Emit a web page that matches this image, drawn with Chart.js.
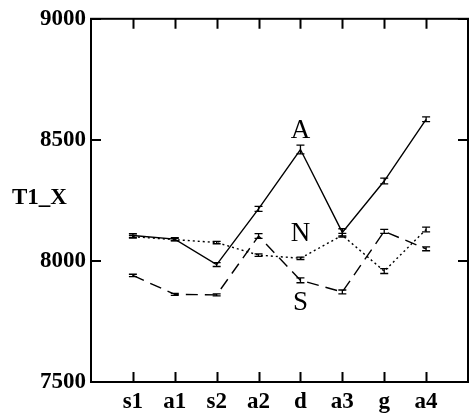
<!DOCTYPE html>
<html>
<head>
<meta charset="UTF-8">
<script src="https://cdn.jsdelivr.net/npm/chart.js"></script>
<style>
  html, body { margin: 0; padding: 0; background: #fff; }
  #wrap { width: 474px; height: 417px; }
</style>
</head>
<body>
<div id="wrap"><canvas id="c" width="474" height="417"></canvas></div>
<script>
const categories = ['s1', 'a1', 's2', 'a2', 'd', 'a3', 'g', 'a4'];
const seriesA = [8105, 8090, 7985, 8215, 8460, 8118, 8330, 8585];
const seriesN = [8100, 8088, 8076, 8024, 8011, 8106, 7958, 8130];
const seriesS = [7940, 7862, 7860, 8103, 7920, 7872, 8122, 8050];
const errA = [8, 6, 8, 10, 18, 15, 12, 10];
const errN = [6, 5, 5, 5, 5, 8, 10, 10];
const errS = [5, 4, 4, 10, 10, 8, 8, 8];
const yTicks = [7500, 8000, 8500, 9000];
const seriesNames = ['A', 'N', 'S'];
const namePos = [[4, 8535], [4, 8113], [4, 7827]]; // [category index, value]

const serif = "'Liberation Serif', 'DejaVu Serif', serif";

function pts(vals) { return vals.map((v, i) => ({ x: i, y: v })); }

// frame, inward ticks, error bars, series letters, y title
const extras = {
  id: 'extras',
  afterDatasetsDraw(chart) {
    const ctx = chart.ctx, a = chart.chartArea;
    const xs = chart.scales.x, ys = chart.scales.y;
    ctx.save();
    ctx.strokeStyle = '#000';
    ctx.lineWidth = 2;
    ctx.strokeRect(a.left, a.top, a.right - a.left, a.bottom - a.top);
    ctx.beginPath();
    categories.forEach((c, i) => {
      const px = Math.round(xs.getPixelForValue(i)) + 0.5;
      ctx.moveTo(px, a.top); ctx.lineTo(px, a.top + 10);
      ctx.moveTo(px, a.bottom); ctx.lineTo(px, a.bottom - 10);
    });
    yTicks.forEach(v => {
      const py = Math.round(ys.getPixelForValue(v));
      ctx.moveTo(a.left, py); ctx.lineTo(a.left + 10, py);
      ctx.moveTo(a.right, py); ctx.lineTo(a.right - 10, py);
    });
    ctx.stroke();

    // error bars
    ctx.lineWidth = 1.3;
    [[seriesA, errA], [seriesN, errN], [seriesS, errS]].forEach(([vals, errs]) => {
      ctx.beginPath();
      vals.forEach((v, i) => {
        const px = xs.getPixelForValue(i);
        const hi = ys.getPixelForValue(v + errs[i]);
        const lo = ys.getPixelForValue(v - errs[i]);
        ctx.moveTo(px, hi); ctx.lineTo(px, lo);
        ctx.moveTo(px - 4, hi); ctx.lineTo(px + 4, hi);
        ctx.moveTo(px - 4, lo); ctx.lineTo(px + 4, lo);
      });
      ctx.stroke();
    });

    ctx.fillStyle = '#000';
    ctx.font = '27px ' + serif;
    ctx.textAlign = 'center';
    ctx.textBaseline = 'middle';
    seriesNames.forEach((n, k) => {
      ctx.fillText(n, xs.getPixelForValue(namePos[k][0]), ys.getPixelForValue(namePos[k][1]));
    });

    ctx.font = 'bold 23px ' + serif;
    ctx.textAlign = 'left';
    ctx.fillText('T1_X', 12, 198);
    ctx.restore();
  }
};

new Chart(document.getElementById('c'), {
  type: 'line',
  data: {
    datasets: [
      { label: 'A', data: pts(seriesA), borderColor: '#000', borderWidth: 1.4, pointRadius: 0, tension: 0 },
      { label: 'N', data: pts(seriesN), borderColor: '#000', borderWidth: 1.4, borderDash: [2, 3], pointRadius: 0, tension: 0 },
      { label: 'S', data: pts(seriesS), borderColor: '#000', borderWidth: 1.4, borderDash: [12, 7], pointRadius: 0, tension: 0 }
    ]
  },
  options: {
    responsive: false,
    animation: false,
    devicePixelRatio: 1,
    layout: { padding: { top: 14, right: 3, left: 0, bottom: 0 } },
    plugins: { legend: { display: false }, tooltip: { enabled: false } },
    scales: {
      x: {
        type: 'linear', min: -1, max: 8,
        grid: { display: false, drawTicks: false },
        border: { display: false },
        ticks: {
          stepSize: 1, autoSkip: false, maxRotation: 0, padding: 6,
          color: '#000', font: { family: serif, size: 23, weight: 'bold' },
          callback: v => categories[v] || ''
        },
        afterFit: s => { s.height = 35; }
      },
      y: {
        min: 7500, max: 9000,
        grid: { display: false, drawTicks: false },
        border: { display: false },
        ticks: {
          stepSize: 500, padding: 5, color: '#000',
          font: { family: serif, size: 23, weight: 'bold' },
          callback: v => String(v)
        },
        afterFit: s => { s.width = 91; }
      }
    }
  },
  plugins: [extras]
});
</script>
</body>
</html>
